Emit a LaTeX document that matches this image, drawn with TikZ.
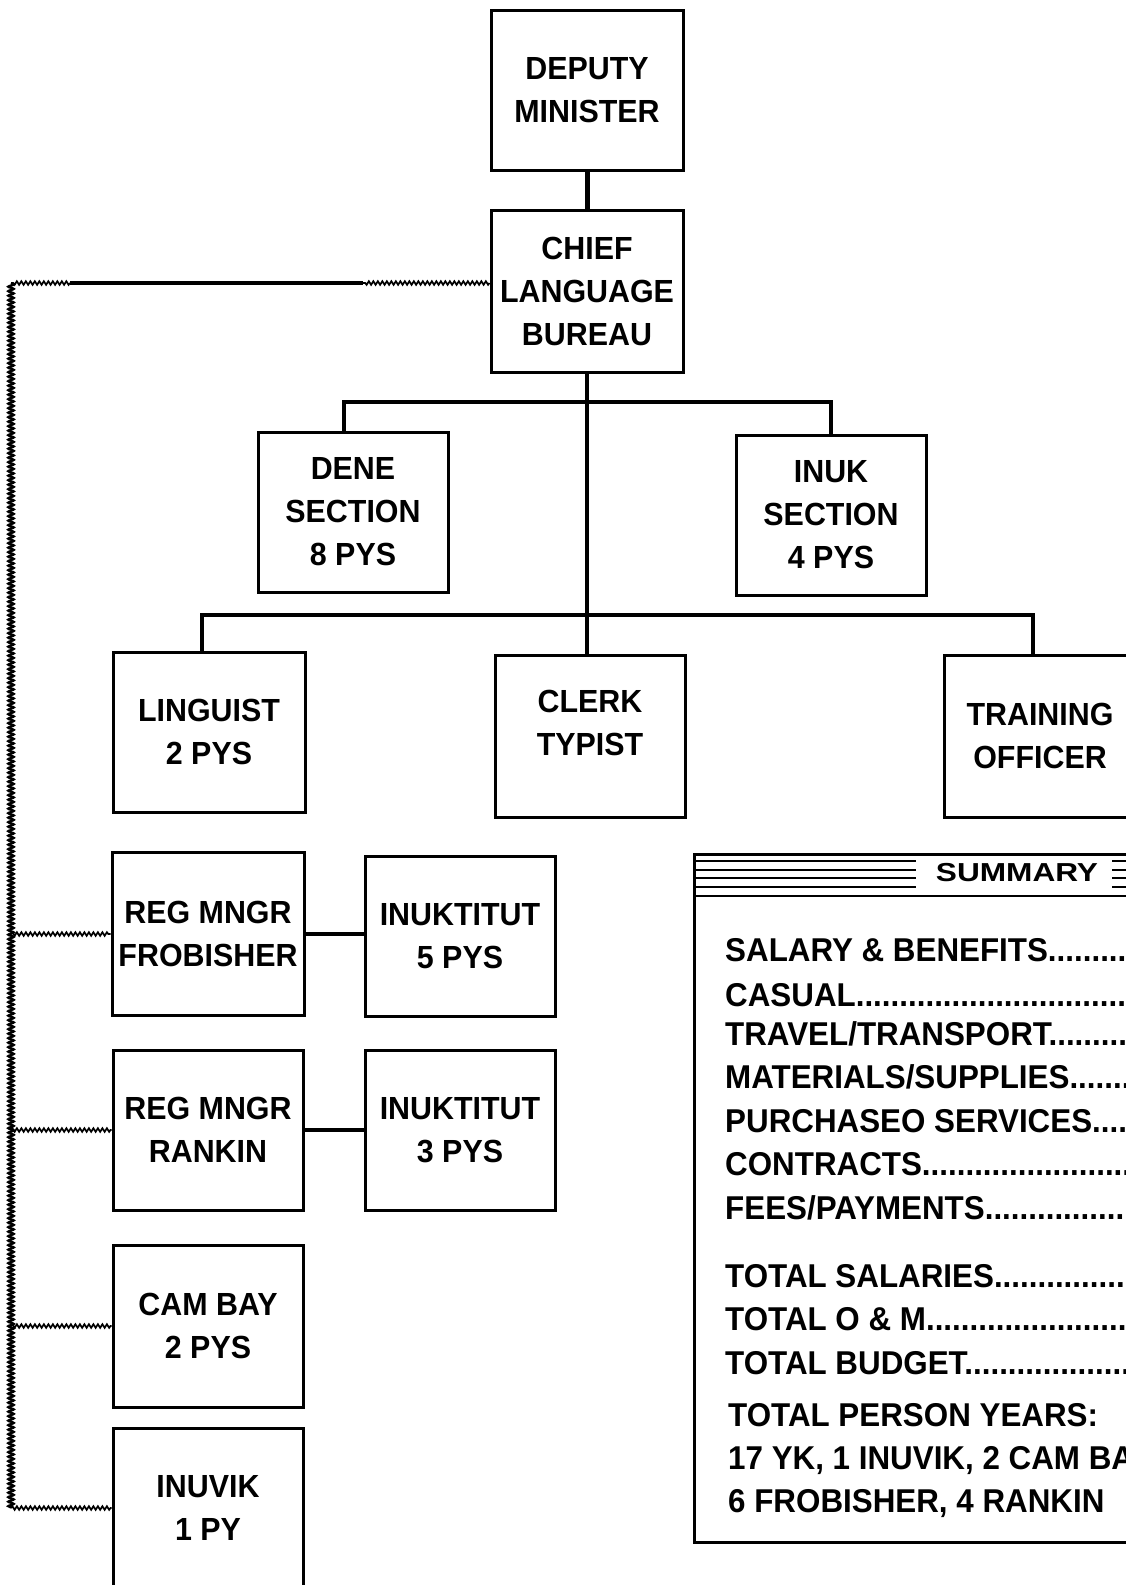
\documentclass[tikz,border=0pt]{standalone}
\usepackage{fontspec}
\usepackage{graphicx}
\setmainfont[FakeStretch=0.95]{Liberation Sans}
\usetikzlibrary{decorations.pathmorphing}
\tikzset{
  box/.style={draw, line width=3pt, rectangle, inner sep=0pt, align=center,
    font=\fontsize{32}{43}\selectfont\bfseries, minimum width=190pt, minimum height=160pt},
  txt/.style={inner sep=0pt, align=center, font=\fontsize{32}{43}\selectfont\bfseries},
  conn/.style={line width=4.5pt},
  wavy/.style={line width=1.7pt, decorate, decoration={snake, amplitude=1.8pt, segment length=4.5pt}},
  spine/.style={line width=2.2pt, decorate, decoration={snake, amplitude=2.8pt, segment length=4.5pt}},
  sumline/.style={inner sep=0pt, anchor=base west, font=\fontsize{33}{40}\selectfont\bfseries},
  stripe/.style={line width=2pt}
}
\begin{document}
\begin{tikzpicture}[x=1pt,y=-1pt]
\useasboundingbox (0,0) rectangle (1126,1585);
\clip (0,0) rectangle (1126,1585);

% boxes
\node[box, minimum width=192pt] (dm) at (587,90) {DEPUTY\\MINISTER};
\node[box, minimum width=192pt, minimum height=162pt] (chief) at (587,291) {CHIEF\\LANGUAGE\\BUREAU};
\node[box] (dene) at (353,512) {DENE\\SECTION\\8 PYS};
\node[box] (inuk) at (831,515) {INUK\\SECTION\\4 PYS};
\node[box, minimum width=192pt] (ling) at (209,732) {LINGUIST\\2 PYS};
\node[box, minimum height=162pt] (clerk) at (590,736) {};
\node[txt] (clerkt) at ([yshift=13pt]clerk.center) {CLERK\\TYPIST};
\node[box, minimum width=192pt, minimum height=162pt] (train) at (1040,736) {TRAINING\\OFFICER};
\node[box, minimum width=192pt, minimum height=163pt] (frob) at (208,934) {REG MNGR\\FROBISHER};
\node[box] (ink5) at (460,936) {INUKTITUT\\5 PYS};
\node[box] (rank) at (208,1130) {REG MNGR\\RANKIN};
\node[box] (ink3) at (460,1130) {INUKTITUT\\3 PYS};
\node[box, minimum height=162pt] (cam) at (208,1326) {CAM BAY\\2 PYS};
\node[box] (inuv) at (208,1508) {INUVIK\\1 PY};

% solid connectors
\draw[conn, line width=5pt] (dm.south) -- (dm.south |- chief.north);
\coordinate (d1) at (344,402);
\coordinate (i1) at (831,402);
\coordinate (l1) at (202,615);
\coordinate (t1) at (1033,615);
\draw[conn] (chief.south) -- (chief.south |- clerk.north);
\draw[conn] (d1 |- dene.north) -- (d1) -- (i1) -- (i1 |- inuk.north);
\draw[conn] (l1 |- ling.north) -- (l1) -- (t1) -- (t1 |- train.north);
\draw[conn] (frob.east) -- (frob.east -| ink5.west);
\draw[conn] (rank.east) -- (rank.east -| ink3.west);

% wavy regional links
\coordinate (sTop) at (11,283);
\coordinate (k1) at (363,283);
\coordinate (k2) at (70,283);
\draw[wavy] (chief.west |- sTop) -- (k1);
\draw[line width=4.5pt] (k1) -- (k2);
\draw[wavy] (k2) -- (sTop);
\draw[spine] (sTop) -- (sTop |- inuv.west);
\draw[wavy] (sTop |- frob.west) -- (frob.west);
\draw[wavy] (sTop |- rank.west) -- (rank.west);
\draw[wavy] (sTop |- cam.west) -- (cam.west);
\draw[wavy] (sTop |- inuv.west) -- (inuv.west);

% summary panel
\node[draw, line width=2.5pt, rectangle, inner sep=0pt, anchor=north west,
      minimum width=460pt, minimum height=688pt] (sumbox) at (693,853) {};
\coordinate (h1) at (916,0);
\coordinate (h2) at (1112,0);
\foreach \yy in {861,870,878,887}{
  \draw[stripe] (sumbox.west |- 0,\yy) -- (h1 |- 0,\yy);
  \draw[stripe] (h2 |- 0,\yy) -- (sumbox.east |- 0,\yy);
}
\draw[line width=2.5pt] (sumbox.west |- 0,896) -- (sumbox.east |- 0,896);
\node[inner sep=0pt, font=\fontsize{26}{30}\selectfont\bfseries] (sumtitle) at (1017,873)
  {\scalebox{1.28}[1]{SUMMARY}};

\node[sumline] (s1) at (725,961) {SALARY \& BENEFITS.................................};
\node[sumline] (s2) at (725,1006) {CASUAL.............................................};
\node[sumline] (s3) at (725,1045) {TRAVEL/TRANSPORT...................................};
\node[sumline] (s4) at (725,1088) {MATERIALS/SUPPLIES.................................};
\node[sumline] (s5) at (725,1132) {PURCHASEO SERVICES.................................};
\node[sumline] (s6) at (725,1175) {CONTRACTS..........................................};
\node[sumline] (s7) at (725,1219) {FEES/PAYMENTS......................................};
\node[sumline] (s8) at (725,1287) {TOTAL SALARIES.....................................};
\node[sumline] (s9) at (725,1330) {TOTAL O \& M........................................};
\node[sumline] (s10) at (725,1374) {TOTAL BUDGET.......................................};
\node[sumline] (s11) at (728,1426) {TOTAL PERSON YEARS:};
\node[sumline] (s12) at (728,1469) {17 YK, 1 INUVIK, 2 CAM BAY,};
\node[sumline] (s13) at (728,1512) {6 FROBISHER, 4 RANKIN};
\end{tikzpicture}
\end{document}
